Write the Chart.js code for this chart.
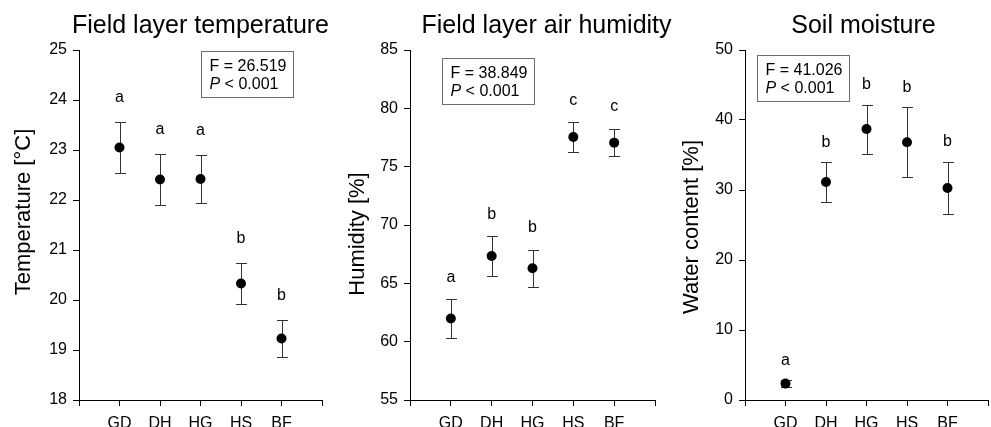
<!DOCTYPE html>
<html>
<head>
<meta charset="utf-8">
<script src="https://cdn.jsdelivr.net/npm/chart.js@4.4.1/dist/chart.umd.min.js"></script>
<style>
  html, body { margin: 0; padding: 0; background: #fff; width: 991px; height: 427px; overflow: hidden; position: relative; }
  .panel { position: absolute; top: 0; height: 427px; }
</style>
</head>
<body>
<div class="panel" id="p1" style="left:0px;width:340px"><canvas id="c1"></canvas></div>
<div class="panel" id="p2" style="left:330px;width:350px"><canvas id="c2"></canvas></div>
<div class="panel" id="p3" style="left:660px;width:345px"><canvas id="c3"></canvas></div>
<script>
// ---- data ----
const categories = ['GD', 'DH', 'HG', 'HS', 'BF'];

const tempMean = [23.05, 22.41, 22.42, 20.33, 19.23];
const tempErr  = [0.51, 0.52, 0.49, 0.41, 0.37];
const tempLetters = ['a', 'a', 'a', 'b', 'b'];

const humMean = [61.98, 67.34, 66.29, 77.54, 77.06];
const humErr  = [1.64, 1.70, 1.60, 1.27, 1.18];
const humLetters = ['a', 'b', 'b', 'c', 'c'];

const soilMean = [2.34, 31.14, 38.71, 36.81, 30.29];
const soilErr  = [0.50, 2.80, 3.50, 5.00, 3.70];
const soilLetters = ['a', 'b', 'b', 'b', 'b'];

const titles = ['Field layer temperature', 'Field layer air humidity', 'Soil moisture'];
const yTitles = ['Temperature [°C]', 'Humidity [%]', 'Water content [%]'];
const statF = ['26.519', '38.849', '41.026'];
const statP = '< 0.001';

const FONT = "'Liberation Sans', Arial, Helvetica, sans-serif";
Chart.defaults.font.family = FONT;
Chart.defaults.color = '#000';

// error bars + significance letters
const errorBarPlugin = {
  id: 'errorBars',
  beforeDatasetsDraw(chart, args, opts) {
    const ctx = chart.ctx, xs = chart.scales.x, ys = chart.scales.y;
    ctx.save();
    ctx.strokeStyle = '#333';
    ctx.lineWidth = 1;
    opts.means.forEach((m, i) => {
      const x = Math.round(xs.getPixelForValue(i + 1)) + 0.5;
      const yt = Math.round(ys.getPixelForValue(m + opts.errs[i])) + 0.5;
      const yb = Math.round(ys.getPixelForValue(m - opts.errs[i])) + 0.5;
      ctx.beginPath();
      ctx.moveTo(x, yt); ctx.lineTo(x, yb);
      ctx.moveTo(x - 5.5, yt); ctx.lineTo(x + 5.5, yt);
      ctx.moveTo(x - 5.5, yb); ctx.lineTo(x + 5.5, yb);
      ctx.stroke();
    });
    ctx.restore();
  },
  afterDatasetsDraw(chart, args, opts) {
    const ctx = chart.ctx, xs = chart.scales.x, ys = chart.scales.y;
    ctx.save();
    ctx.fillStyle = '#000';
    ctx.font = '16px ' + FONT;
    ctx.textAlign = 'center';
    ctx.textBaseline = 'middle';
    opts.means.forEach((m, i) => {
      const x = xs.getPixelForValue(i + 1);
      const yt = ys.getPixelForValue(m + opts.errs[i]);
      ctx.fillText(opts.letters[i], x, yt - opts.letterGap);
    });
    ctx.restore();
  }
};

// panel title, y-axis title and statistics box
const panelTextPlugin = {
  id: 'panelText',
  afterDraw(chart, args, opts) {
    const ctx = chart.ctx, a = chart.chartArea;
    ctx.save();
    ctx.fillStyle = '#000';
    ctx.font = '25px ' + FONT;
    ctx.textAlign = 'center';
    ctx.textBaseline = 'alphabetic';
    ctx.fillText(opts.title, (a.left + a.right) / 2 + opts.titleDx, 33);
    // y-axis title (rotated)
    ctx.save();
    ctx.font = '22px ' + FONT;
    ctx.textBaseline = 'middle';
    ctx.translate(chart.scales.y.left + opts.yTitleX, (a.top + a.bottom) / 2 + opts.yTitleDy);
    ctx.rotate(-Math.PI / 2);
    ctx.fillText(opts.yTitle, 0, 0);
    ctx.restore();
    // stats box
    const bx = Math.round(a.left + opts.boxDx) + 0.5;
    const by = Math.round(a.top + opts.boxDy) + 0.5;
    ctx.strokeStyle = '#6e6e6e';
    ctx.lineWidth = 1;
    ctx.strokeRect(bx, by, opts.boxW, opts.boxH);
    ctx.textAlign = 'left';
    ctx.textBaseline = 'middle';
    ctx.font = '16px ' + FONT;
    ctx.fillText('F = ' + opts.f, bx + 8, by + 15.5);
    ctx.font = 'italic 16px ' + FONT;
    ctx.fillText('P', bx + 8, by + 33.5);
    const pw = ctx.measureText('P').width;
    ctx.font = '16px ' + FONT;
    ctx.fillText(' ' + statP, bx + 8 + pw, by + 33.5);
    ctx.restore();
  }
};

function makeChart(id, means, errs, letters, idx, cfg) {
  const data = means.map((m, i) => ({ x: i + 1, y: m }));
  return new Chart(document.getElementById(id), {
    type: 'scatter',
    data: { datasets: [{
      data,
      pointRadius: 5,
      pointBackgroundColor: '#000',
      pointBorderColor: '#000',
      pointBorderWidth: 0,
      showLine: false
    }]},
    options: {
      responsive: true,
      maintainAspectRatio: false,
      animation: false,
      devicePixelRatio: 1,
      layout: { padding: { top: 50, right: cfg.padRight, bottom: 0, left: 0 } },
      plugins: {
        legend: { display: false },
        tooltip: { enabled: false },
        errorBars: { means, errs, letters, letterGap: cfg.letterGap },
        panelText: { title: titles[idx], titleDx: cfg.titleDx, f: statF[idx],
                     yTitle: yTitles[idx], yTitleX: cfg.yTitleX, yTitleDy: cfg.yTitleDy,
                     boxDx: cfg.boxDx, boxDy: cfg.boxDy, boxW: 92, boxH: 46 }
      },
      scales: {
        x: {
          type: 'linear',
          min: 0, max: 6,
          afterFit: s => { s.height = 27; },
          afterBuildTicks: s => { s.ticks = [0,1,2,3,4,5,6].map(v => ({ value: v })); },
          ticks: {
            stepSize: 1,
            autoSkip: false,
            maxRotation: 0,
            padding: 8,
            color: '#000',
            font: { size: 16 },
            callback: v => (v >= 1 && v <= 5) ? categories[v - 1] : ''
          },
          grid: { drawOnChartArea: false, drawTicks: true, tickLength: 6, color: '#000' },
          border: { display: true, color: '#000', width: 1 }
        },
        y: {
          type: 'linear',
          min: cfg.yMin, max: cfg.yMax,
          afterFit: s => { s.width = cfg.yWidth; },
          ticks: { stepSize: cfg.yStep, padding: 6, color: '#000', font: { size: 16 } },
          grid: { drawOnChartArea: false, drawTicks: true, tickLength: 6, color: '#000' },
          border: { display: true, color: '#000', width: 1 },
          title: { display: false }
        }
      }
    },
    plugins: [errorBarPlugin, panelTextPlugin]
  });
}

makeChart('c1', tempMean, tempErr, tempLetters, 0,
  { yMin: 18, yMax: 25, yStep: 1, yWidth: 79, padRight: 18, titleDx: 0,
    boxDx: 121.5, boxDy: 0.5, letterGap: 24, yTitleX: 24, yTitleDy: -13 });
makeChart('c2', humMean, humErr, humLetters, 1,
  { yMin: 55, yMax: 85, yStep: 5, yWidth: 80, padRight: 25, titleDx: 14,
    boxDx: 32, boxDy: 7.5, letterGap: 22, yTitleX: 28, yTitleDy: 9 });
makeChart('c3', soilMean, soilErr, soilLetters, 2,
  { yMin: 0, yMax: 50, yStep: 10, yWidth: 85, padRight: 17, titleDx: -3,
    boxDx: 12, boxDy: 5, letterGap: 20, yTitleX: 32, yTitleDy: 2 });
</script>
</body>
</html>
